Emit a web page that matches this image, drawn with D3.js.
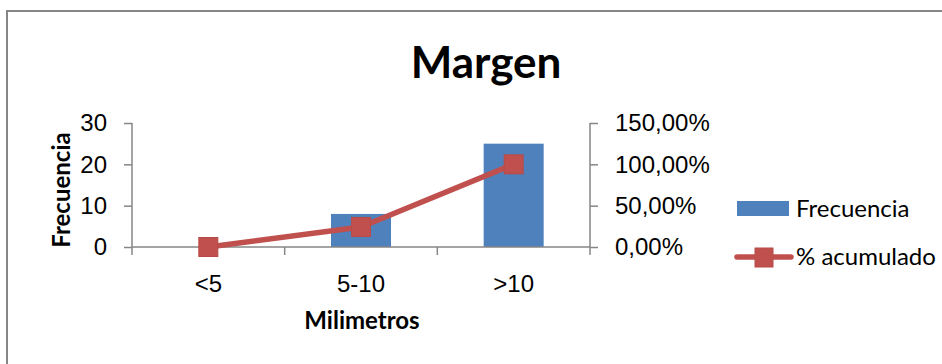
<!DOCTYPE html>
<html>
<head>
<meta charset="utf-8">
<script src="https://cdn.jsdelivr.net/npm/d3@7"></script>
<style>
  body { margin: 0; background: #fff; }
  svg { display: block; font-family: Lato, "Open Sans", sans-serif; }
</style>
</head>
<body>
<div id="chart"></div>
<script>
// Chart data
const categories = ["<5", "5-10", ">10"];
const frecuencia = [0, 8, 25];
const acumulado = [0, 0.2424, 1.0];
const leftTicks = [0, 10, 20, 30];
const rightTicks = [0, 0.5, 1.0, 1.5];

const width = 942;
const height = 364;
const plot = { left: 132, right: 590, top: 123, bottom: 247 };
const axisColor = "#868686";
const barColor = "#4F81BD";
const lineColor = "#C0504D";

const svg = d3.select("#chart").append("svg")
    .attr("width", width)
    .attr("height", height);

// Outer chart frame (cropped at right and bottom)
svg.append("rect")
    .attr("x", 7)
    .attr("y", 11)
    .attr("width", width + 20)
    .attr("height", height + 20)
    .attr("fill", "#fff")
    .attr("stroke", axisColor)
    .attr("stroke-width", 2);

// Scales
const x = d3.scaleBand()
    .domain(categories)
    .range([plot.left, plot.right])
    .paddingInner(0.607)
    .paddingOuter(0.3035);

const yLeft = d3.scaleLinear().domain([0, 30]).range([plot.bottom, plot.top]);
const yRight = d3.scaleLinear().domain([0, 1.5]).range([plot.bottom, plot.top]);

// Bars
svg.append("g")
    .selectAll("rect")
    .data(frecuencia)
    .enter()
    .append("rect")
    .attr("x", (d, i) => x(categories[i]))
    .attr("y", d => yLeft(d))
    .attr("width", x.bandwidth())
    .attr("height", d => yLeft(0) - yLeft(d))
    .attr("fill", barColor);

// Left axis
const leftAxis = svg.append("g")
    .attr("transform", `translate(${plot.left},0)`)
    .call(d3.axisLeft(yLeft).tickValues(leftTicks).tickSize(8).tickSizeOuter(8).tickPadding(17));

// Right axis
const rightAxis = svg.append("g")
    .attr("transform", `translate(${plot.right},0)`)
    .call(d3.axisRight(yRight).tickValues(rightTicks).tickSize(8).tickSizeOuter(8).tickPadding(17)
        .tickFormat(d => (d * 100).toFixed(2).replace(".", ",") + "%"));

// Bottom axis (labels at band centres)
const bottomAxis = svg.append("g")
    .attr("transform", `translate(0,${plot.bottom})`)
    .call(d3.axisBottom(x).tickSize(0).tickPadding(28));

// Category boundary ticks
const step = x.step();
const bounds = categories.map(c => x(c) - step * x.paddingInner() / 2);
bounds.push(plot.right);
bottomAxis.selectAll(".bound")
    .data(bounds)
    .enter()
    .append("line")
    .attr("class", "bound")
    .attr("x1", d => d)
    .attr("x2", d => d)
    .attr("y1", 0)
    .attr("y2", 8);

[leftAxis, rightAxis, bottomAxis].forEach(g => {
    g.selectAll("path, line").attr("stroke", axisColor).attr("stroke-width", 1.5);
    g.selectAll("text").attr("fill", "#000").style("font-size", "24px");
});
leftAxis.select(".domain").attr("d", `M0,${plot.top}V${plot.bottom}`);
rightAxis.select(".domain").attr("d", `M0,${plot.top}V${plot.bottom}`);
bottomAxis.select(".domain").attr("d", `M${plot.left},0H${plot.right}`);
bottomAxis.selectAll(".tick text").attr("dy", "0.71em");

// Cumulative line
const cx = i => x(categories[i]) + x.bandwidth() / 2;
const line = d3.line()
    .x((d, i) => cx(i))
    .y(d => yRight(d));

svg.append("path")
    .datum(acumulado)
    .attr("fill", "none")
    .attr("stroke", lineColor)
    .attr("stroke-width", 5.5)
    .attr("stroke-linejoin", "round")
    .attr("d", line);

svg.append("g")
    .selectAll("rect")
    .data(acumulado)
    .enter()
    .append("rect")
    .attr("x", (d, i) => cx(i) - 9.5)
    .attr("y", d => yRight(d) - 9.5)
    .attr("width", 19)
    .attr("height", 19)
    .attr("fill", lineColor)
    .attr("stroke", "#B84A47")
    .attr("stroke-width", 1);

// Title
svg.append("text")
    .attr("x", 486)
    .attr("y", 78)
    .attr("text-anchor", "middle")
    .style("font-size", "44px")
    .style("font-weight", "bold")
    .text("Margen");

// Axis titles
svg.append("text")
    .attr("x", 362)
    .attr("y", 329)
    .attr("text-anchor", "middle")
    .style("font-size", "24px")
    .style("font-weight", "bold")
    .text("Milimetros");

svg.append("text")
    .attr("transform", "translate(70,190) rotate(-90)")
    .attr("text-anchor", "middle")
    .style("font-size", "24px")
    .style("font-weight", "bold")
    .text("Frecuencia");

// Legend
const legend = svg.append("g").attr("transform", "translate(737,0)");
legend.append("rect")
    .attr("x", 0)
    .attr("y", 201)
    .attr("width", 52)
    .attr("height", 15)
    .attr("fill", barColor);
legend.append("text")
    .attr("x", 59)
    .attr("y", 217)
    .style("font-size", "24px")
    .text("Frecuencia");

legend.append("line")
    .attr("x1", 0)
    .attr("x2", 54)
    .attr("y1", 257)
    .attr("y2", 257)
    .attr("stroke", lineColor)
    .attr("stroke-width", 5.5)
    .attr("stroke-linecap", "round");
legend.append("rect")
    .attr("x", 18)
    .attr("y", 248)
    .attr("width", 18)
    .attr("height", 19)
    .attr("fill", lineColor)
    .attr("stroke", "#B84A47")
    .attr("stroke-width", 1);
legend.append("text")
    .attr("x", 59)
    .attr("y", 265)
    .style("font-size", "24px")
    .text("% acumulado");
</script>
</body>
</html>
